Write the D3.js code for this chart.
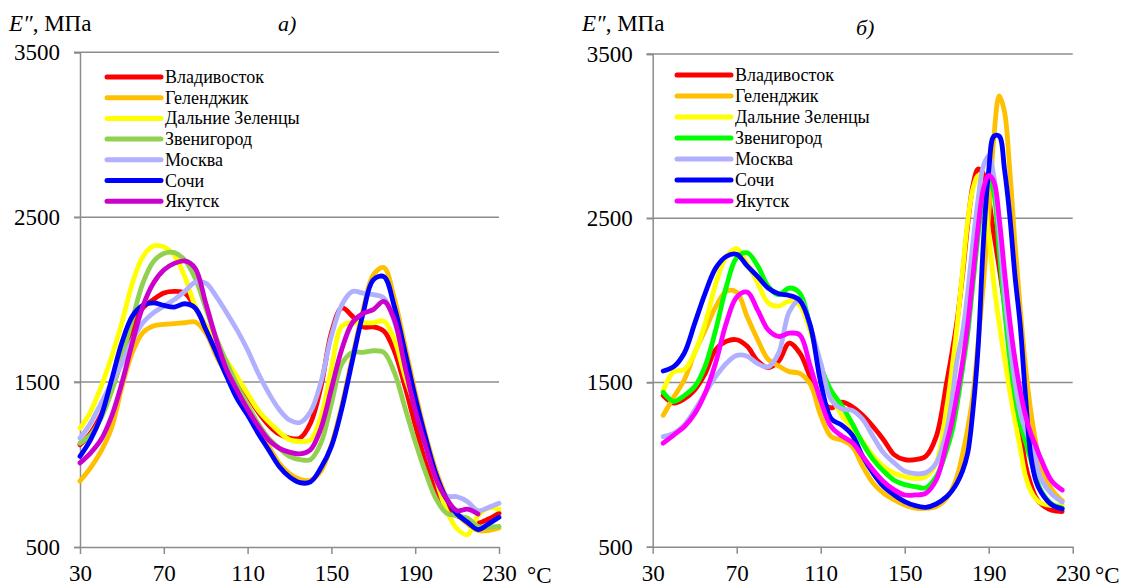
<!DOCTYPE html>
<html>
<head>
<meta charset="utf-8">
<script src="https://cdn.jsdelivr.net/npm/d3@7"></script>
<style>
  body { margin: 0; background: #fff; }
</style>
</head>
<body>
<script>
// названия серий (пункты экспонирования)
var cities = ["Владивосток", "Геленджик", "Дальние Зеленцы", "Звенигород", "Москва", "Сочи", "Якутск"]

var xTicks = [30, 70, 110, 150, 190, 230]
var yTicks = [500, 1500, 2500, 3500]

// панель а) - температуры, °C
var tempsA = [30, 35, 40, 45, 50, 55, 60, 65, 70, 75, 80, 85, 90, 95, 100, 105, 110, 115, 120, 125,
  130, 135, 140, 145, 150, 155, 160, 165, 170, 175, 180, 185, 190, 195, 200, 205, 210, 215, 220, 225, 230]

var vladivostokA = [1120, 1190, 1300, 1450, 1640, 1830, 1950, 2000, 2040, 2050, 2040, 1950, 1840, 1730, 1610, 1520, 1420, 1320, 1240, 1185,
  1160, 1160, 1250, 1470, 1800, 1950, 1900, 1835, 1835, 1810, 1690, 1480, 1240, 1010, 840, 740, 690, 660, 645, 670, 705]
var gelendzhikA = [900, 980, 1080, 1220, 1470, 1680, 1800, 1840, 1850, 1855, 1860, 1865, 1800, 1660, 1540, 1410, 1310, 1210, 1110, 1010,
  945, 910, 905, 960, 1120, 1360, 1650, 1930, 2150, 2195, 2010, 1730, 1440, 1180, 960, 800, 700, 640, 600, 600, 615]
var zelentsyA = [1220, 1320, 1470, 1650, 1860, 2100, 2260, 2325, 2320, 2270, 2140, 1960, 1840, 1730, 1630, 1530, 1430, 1330, 1260, 1200,
  1150, 1140, 1150, 1290, 1580, 1840, 1860, 1860, 1860, 1870, 1760, 1540, 1350, 1140, 910, 720, 610, 575, 690, 735, 730]
var zvenigorodA = [1130, 1180, 1280, 1440, 1650, 1880, 2100, 2230, 2280, 2285, 2240, 2130, 1950, 1770, 1620, 1480, 1360, 1250, 1160, 1100,
  1050, 1030, 1030, 1130, 1370, 1610, 1680, 1680, 1690, 1680, 1560, 1350, 1140, 950, 790, 705, 690, 675, 625, 620, 625]
var moskvaA = [1160, 1250, 1370, 1495, 1615, 1755, 1860, 1920, 1960, 2000, 2050, 2105, 2100, 2020, 1920, 1815, 1695, 1555, 1435, 1335,
  1270, 1255, 1320, 1500, 1780, 1970, 2050, 2040, 2030, 2010, 1870, 1640, 1370, 1120, 930, 810, 805, 775, 720, 740, 765]
var sochiA = [1050, 1150, 1290, 1510, 1740, 1900, 1965, 1980, 1965, 1955, 1975, 1950, 1820, 1680, 1535, 1400, 1300, 1190, 1090, 990,
  925, 890, 895, 980, 1110, 1340, 1630, 1910, 2120, 2140, 1960, 1690, 1410, 1160, 940, 790, 700, 650, 605, 640, 680]
var yakutskA = [1010, 1070, 1150, 1290, 1495, 1740, 1960, 2100, 2180, 2220, 2235, 2190, 1980, 1760, 1575, 1450, 1335, 1235, 1150, 1100,
  1075, 1065, 1090, 1220, 1460, 1700, 1860, 1915, 1940, 1990, 1880, 1600, 1330, 1110, 910, 790, 720, 730, 700, null, null]

// панель б)
var tempsB = [35, 40, 45, 50, 55, 60, 65, 70, 75, 80, 85, 90, 95, 100, 105, 110, 115, 120, 125, 130,
  135, 140, 145, 150, 155, 160, 165, 170, 172.5, 175, 177.5, 180, 182.5, 185, 187.5, 190, 192.5, 195,
  197.5, 200, 202.5, 205, 207.5, 210, 212.5, 215, 220, 225]

var vladivostokB = [1420, 1375, 1400, 1455, 1555, 1700, 1750, 1760, 1720, 1630, 1590, 1630, 1740, 1680, 1535, 1395, 1345, 1380, 1352, 1300,
  1230, 1150, 1060, 1030, 1030, 1050, 1170, 1500, 1680, 1880, 2150, 2460, 2700, 2800, 2770, 2620, 2400, 2200,
  1980, 1750, 1500, 1220, 1000, 880, 800, 760, 722, 714]
var gelendzhikB = [1300, 1410, 1515, 1680, 1820, 1960, 2055, 2050, 1900, 1760, 1640, 1600, 1566, 1556, 1490, 1300, 1170, 1150, 1110, 990,
  886, 825, 785, 754, 735, 733, 744, 795, 850, 930, 1060, 1220, 1420, 1750, 2100, 2520, 3000, 3245,
  3150, 2800, 2350, 1950, 1600, 1330, 1130, 990, 850, 780]
var zelentsyB = [1450, 1565, 1578, 1680, 1860, 2100, 2265, 2315, 2225, 2105, 1985, 1965, 1995, 1970, 1810, 1600, 1420, 1300, 1220, 1140,
  1050, 987, 947, 927, 916, 927, 1010, 1350, 1580, 1850, 2170, 2480, 2680, 2760, 2650, 2400, 2100, 1860,
  1650, 1450, 1270, 1100, 930, 840, 790, 765, 750, 755]
var zvenigorodB = [1440, 1385, 1420, 1475, 1600, 1820, 2080, 2260, 2290, 2210, 2085, 2035, 2075, 2045, 1840, 1600, 1450, 1360, 1250, 1130,
  1030, 960, 905, 878, 866, 858, 925, 1090, 1200, 1370, 1580, 1800, 2100, 2400, 2650, 2750, 2650, 2300,
  1950, 1650, 1420, 1250, 1140, 1030, 920, 840, 760, 735]
var moskvaB = [1170, 1190, 1240, 1330, 1435, 1535, 1615, 1665, 1660, 1615, 1595, 1680, 1930, 2000, 1840, 1620, 1395, 1340, 1330, 1275,
  1170, 1070, 1010, 960, 945, 950, 1010, 1210, 1400, 1640, 1800, 2050, 2350, 2620, 2820, 2880, 2750, 2420,
  2050, 1750, 1500, 1320, 1210, 1130, 1020, 910, 820, 772]
var sochiB = [1570, 1596, 1678, 1860, 2044, 2196, 2267, 2280, 2210, 2145, 2075, 2040, 2030, 2000, 1850, 1500, 1280, 1240, 1180, 1050,
  947, 866, 815, 775, 750, 740, 760, 805, 840, 890, 960, 1070, 1330, 1720, 2360, 2790, 3000, 3000,
  2800, 2520, 2150, 1850, 1420, 1060, 900, 830, 755, 730]
var yakutskB = [1130, 1180, 1230, 1310, 1435, 1620, 1860, 2020, 2050, 1940, 1820, 1780, 1800, 1790, 1600, 1390, 1230, 1175, 1135, 1050,
  967, 896, 846, 815, 815, 825, 906, 1130, 1260, 1430, 1620, 1850, 2150, 2450, 2680, 2760, 2720, 2500,
  2180, 1880, 1640, 1450, 1300, 1190, 1110, 1030, 900, 845]

var colorsA = ["#ff0000", "#ffc000", "#ffff00", "#92d050", "#b0b0ff", "#0000ff", "#cc00cc"]
var colorsB = ["#ff0000", "#ffc000", "#ffff00", "#00ff00", "#b0b0ff", "#0000ff", "#ff00ff"]

var serif = "'Times New Roman', 'Liberation Serif', 'DejaVu Serif', serif"

var svg = d3.select("body").append("svg")
  .attr("width", 1126)
  .attr("height", 588)
  .attr("font-family", serif)

var grey = "#8c8c8c"

function drawPanel(p) {
  var x = d3.scaleLinear().domain([30, 230]).range([p.left, p.right])
  var y = d3.scaleLinear().domain([500, 3500]).range([p.bottom, p.top])
  var g = svg.append("g")

  // сетка
  g.selectAll(".grid").data(yTicks.slice(1)).enter().append("line")
    .attr("x1", p.left - 6).attr("x2", p.right)
    .attr("y1", d => y(d)).attr("y2", d => y(d))
    .attr("stroke", grey).attr("stroke-width", 1.5)

  var ejeY = d3.axisLeft(y).tickValues(yTicks).tickSize(6).tickPadding(14).tickFormat(d3.format("d"))
  var gy = g.append("g").attr("transform", "translate(" + p.left + ",0)").call(ejeY)

  var ejeX = d3.axisBottom(x).tickValues(xTicks).tickSize(7).tickSizeOuter(0).tickPadding(11).tickFormat(d3.format("d"))
  var gx = g.append("g").attr("transform", "translate(0," + p.bottom + ")").call(ejeX)

  ;[gx, gy].forEach(function(a) {
    a.attr("font-family", serif).attr("font-size", 23)
    a.select(".domain").attr("stroke", grey).attr("stroke-width", 1.5)
    a.selectAll(".tick line").attr("stroke", grey).attr("stroke-width", 1.5)
    a.selectAll(".tick text").attr("fill", "#000")
  })

  g.append("text").attr("x", p.degX).attr("y", p.bottom + 36)
    .attr("font-size", 23).text("°C")

  // кривые
  var line = d3.line()
    .defined(d => d[1] != null)
    .curve(d3.curveCatmullRom.alpha(0.5))
    .x(d => x(d[0]))
    .y(d => y(d[1]))

  p.series.forEach(function(vals, i) {
    g.append("path")
      .datum(p.temps.map((t, k) => [t, vals[k]]))
      .attr("fill", "none")
      .attr("stroke", p.colors[i])
      .attr("stroke-width", 4.8)
      .attr("stroke-linejoin", "round")
      .attr("stroke-linecap", "round")
      .attr("d", line)
  })

  // легенда
  var leg = g.append("g")
  cities.forEach(function(name, i) {
    var ly = p.legY + i * p.legStep
    leg.append("line")
      .attr("x1", p.legX).attr("x2", p.legX + 54)
      .attr("y1", ly).attr("y2", ly)
      .attr("stroke", p.colors[i]).attr("stroke-width", 5)
      .attr("stroke-linecap", "round")
    leg.append("text")
      .attr("x", p.legX + 58).attr("y", ly + 6)
      .attr("font-size", 18).text(name)
  })

  var t = g.append("text").attr("x", p.titleX).attr("y", 31).attr("font-size", 23)
  t.append("tspan").attr("font-style", "italic").text("E″")
  t.append("tspan").text(", МПа")

  g.append("text").attr("x", p.letterX).attr("y", p.letterY)
    .attr("font-size", 22).attr("font-style", "italic").text(p.letter)
}

drawPanel({
  left: 80, right: 499, top: 52.3, bottom: 547,
  temps: tempsA,
  series: [vladivostokA, gelendzhikA, zelentsyA, zvenigorodA, moskvaA, sochiA, yakutskA],
  colors: colorsA,
  legX: 107, legY: 77, legStep: 20.7,
  titleX: 9, letter: "а)", letterX: 278, letterY: 31, degX: 527
})

drawPanel({
  left: 652.7, right: 1072.7, top: 54, bottom: 546.7,
  temps: tempsB,
  series: [vladivostokB, gelendzhikB, zelentsyB, zvenigorodB, moskvaB, sochiB, yakutskB],
  colors: colorsB,
  legX: 677, legY: 75, legStep: 21,
  titleX: 582, letter: "б)", letterX: 856, letterY: 35, degX: 1095
})
</script>
</body>
</html>
